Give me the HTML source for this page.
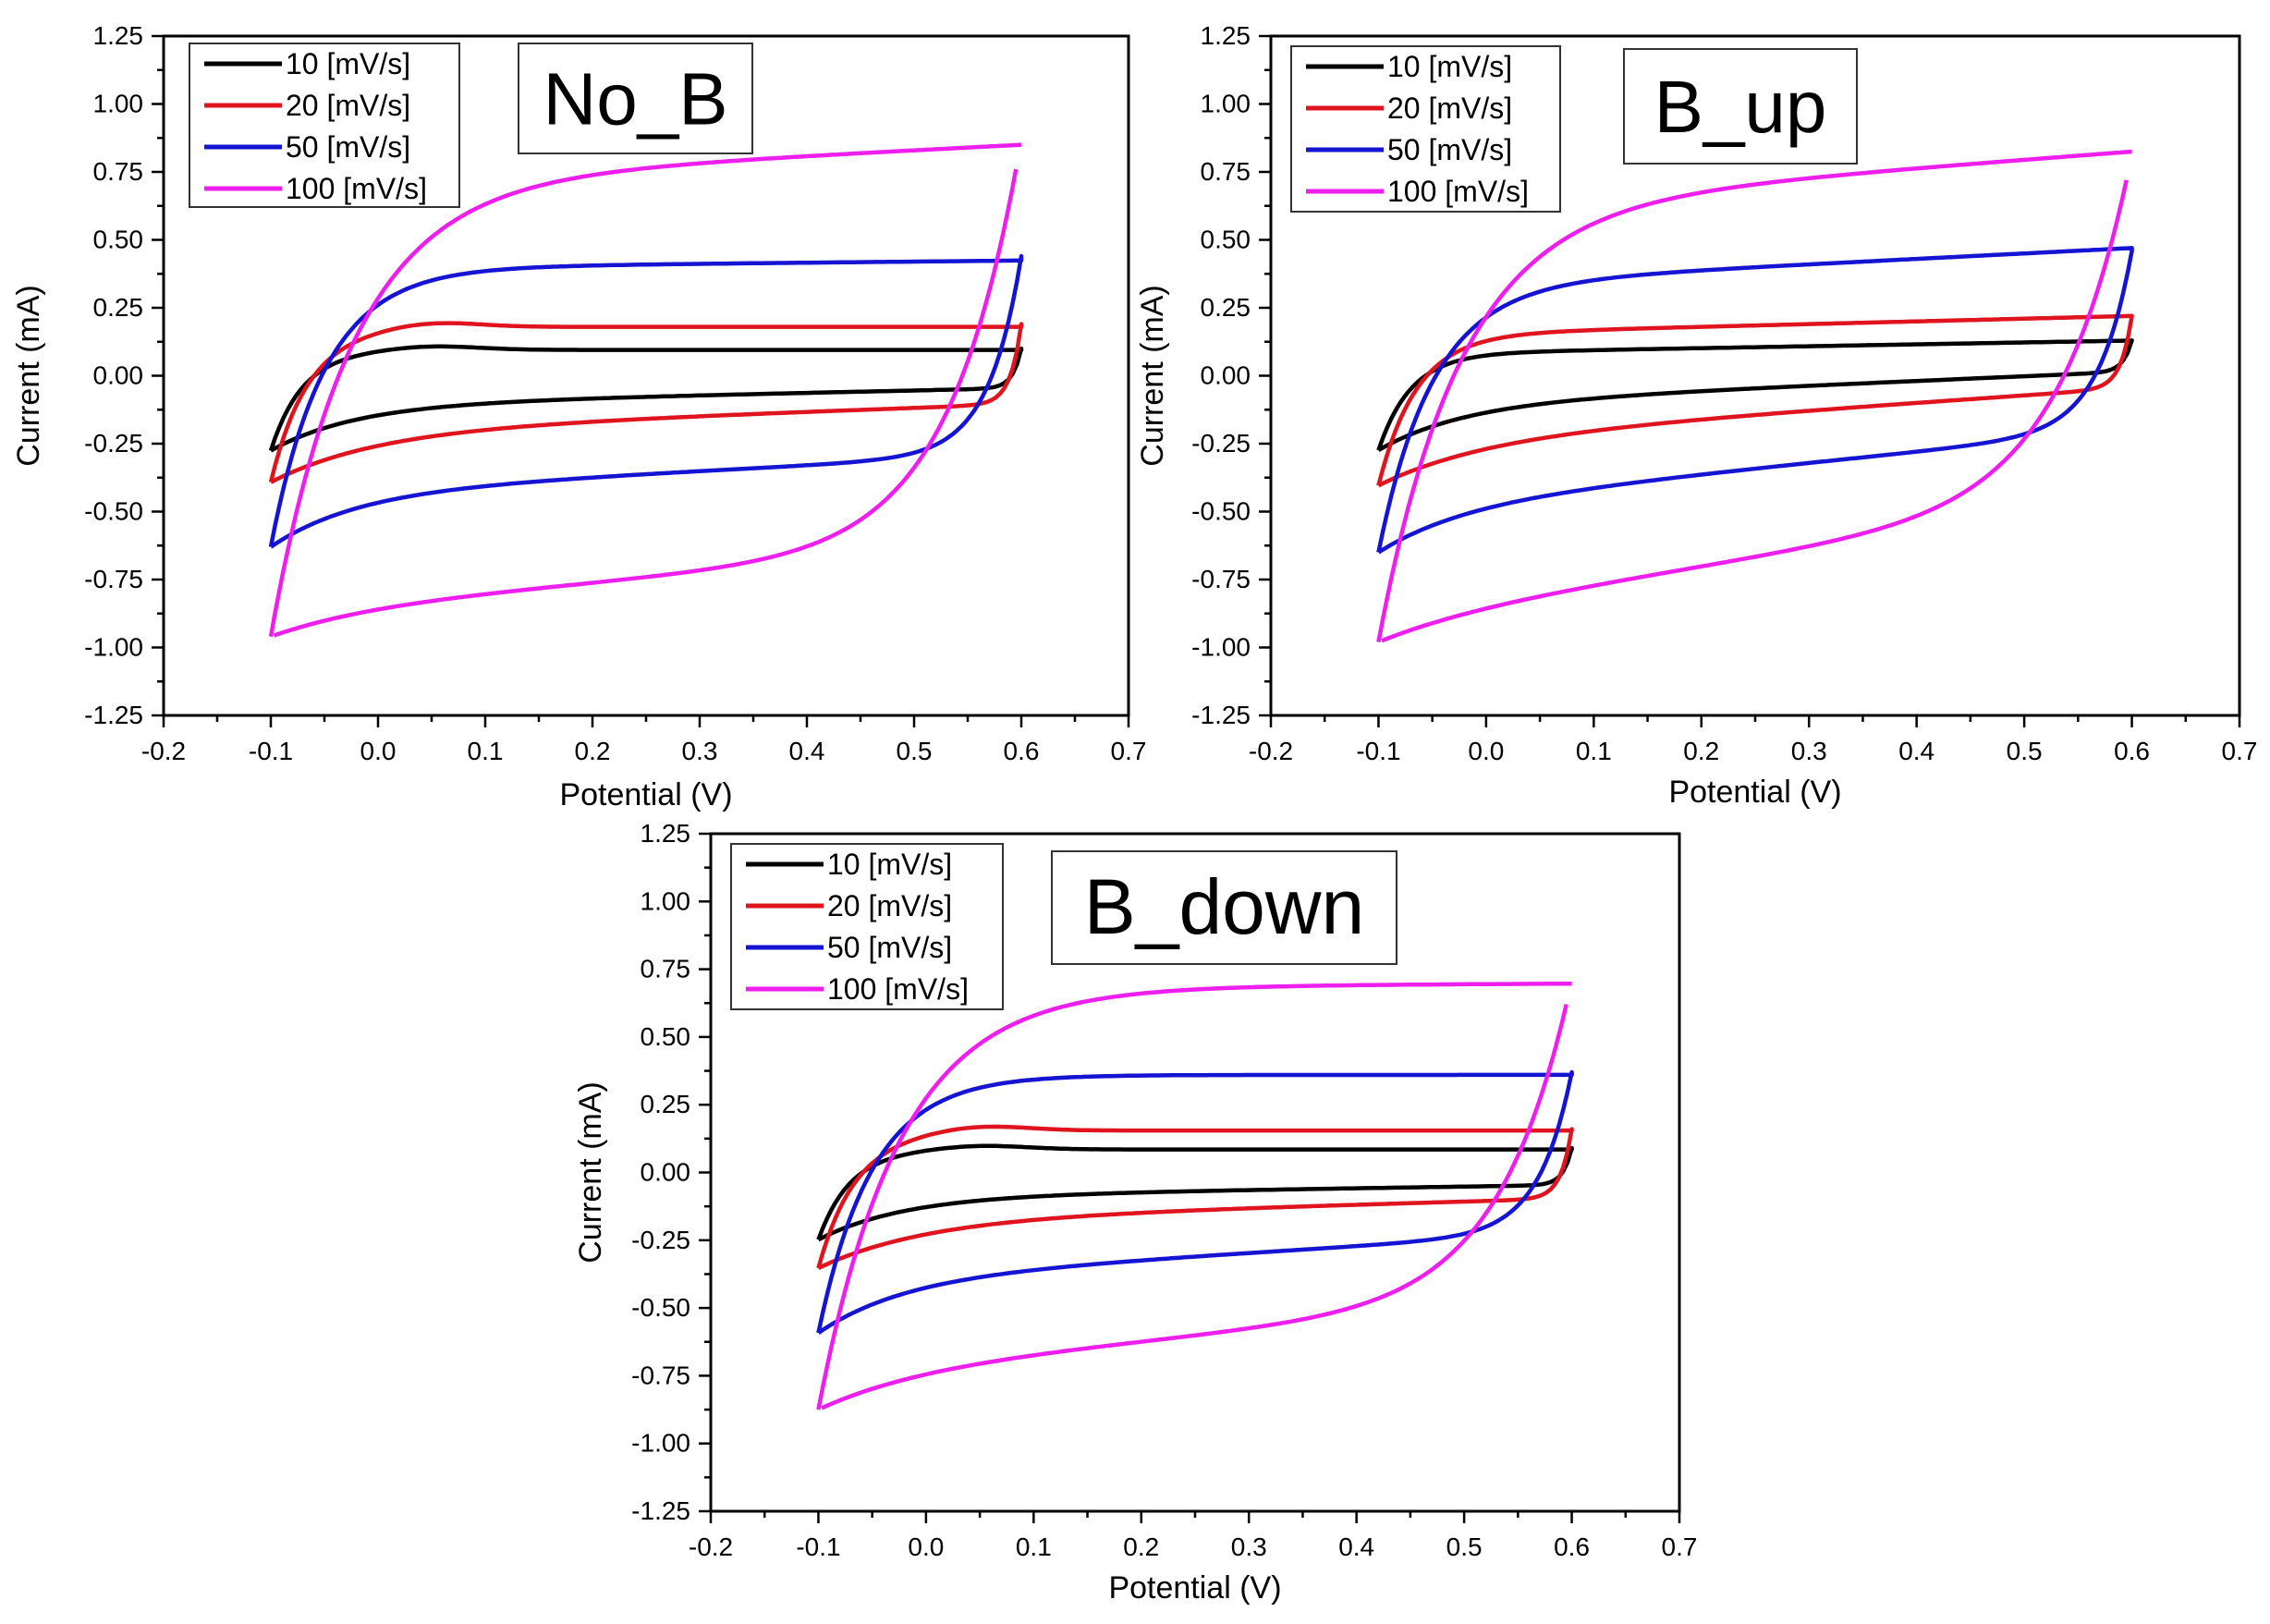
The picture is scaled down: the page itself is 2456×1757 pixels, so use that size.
<!DOCTYPE html>
<html><head><meta charset="utf-8"><style>html,body{margin:0;padding:0;background:#fff}svg{display:block}</style></head>
<body>
<svg id="s" xmlns="http://www.w3.org/2000/svg" width="2456" height="1757" viewBox="0 0 2456 1757" font-family="Liberation Sans, sans-serif"></svg>
<script>
const S=document.getElementById('s');let h='';
const cols=['#000000','#e0141e','#1414d2','#ee1eee'];
const labels=['10 [mV/s]','20 [mV/s]','50 [mV/s]','100 [mV/s]'];
function P(t0,t1,tau,b0,b1,bx,c,d,imax,taur,bump,xr){return {t:x=>t0+t1*(x-0.25)+(bump||0)*Math.exp(-Math.pow((x-0.05)/0.06,2)),tau,b:x=>b0+b1*(x-bx)-c*Math.exp(-(x+0.1)/d),imax,taur,xr:xr||0.6};}
const panels=[
{x0:177,x1:1221,y0:39,y1:774,title:'No_B',fs:80,leg:[205,47,292,177],tb:[561,47,253,119],ylx:31,xly:860,
 s:[P(0.095,0,0.03,-0.08,0.086,0.2,0.17,0.08,0.1,0.008,0.015),
    P(0.18,0,0.035,-0.16,0.14,0.2,0.19,0.1,0.19,0.01,0.02),
    P(0.41,0.04,0.05,-0.37,0.2,0.2,0.2,0.08,0.44,0.03,0),
    P(0.78,0.2,0.075,-0.76,0.3,0.2,0.11,0.1,0.76,0.065,0,0.595)]},
{x0:1375,x1:2423,y0:39,y1:774,title:'B_up',fs:80,leg:[1397,50,291,179],tb:[1757,53,252,124],ylx:1247,xly:857,
 s:[P(0.105,0.07,0.03,-0.07,0.17,0.1,0.17,0.08,0.13,0.008,0),
    P(0.185,0.1,0.035,-0.18,0.27,0.1,0.17,0.1,0.22,0.01,0),
    P(0.40,0.2,0.05,-0.4,0.4,0.1,0.17,0.08,0.46,0.03,0),
    P(0.72,0.3,0.075,-0.7,0.6,0.2,0.1,0.1,0.72,0.065,0,0.595)]},
{x0:769,x1:1817,y0:902,y1:1635,title:'B_down',fs:84,leg:[791,913,294,179],tb:[1138,921,373,122],ylx:639,xly:1718,
 s:[P(0.085,0,0.03,-0.07,0.06,0.2,0.16,0.08,0.09,0.008,0.015),
    P(0.155,0,0.035,-0.14,0.11,0.2,0.18,0.1,0.16,0.01,0.02),
    P(0.36,0,0.05,-0.32,0.24,0.2,0.2,0.08,0.37,0.03,0.0),
    P(0.69,0.02,0.075,-0.62,0.35,0.2,0.15,0.1,0.62,0.065,0,0.595)]}
];
for(const p of panels){
 const X=v=>p.x0+(v+0.2)/0.9*(p.x1-p.x0), Y=v=>p.y0+(1.25-v)/2.5*(p.y1-p.y0);
 h+=`<rect x="${p.x0}" y="${p.y0}" width="${p.x1-p.x0}" height="${p.y1-p.y0}" fill="none" stroke="#000" stroke-width="3"/>`;
 for(let i=0;i<=18;i++){const v=-0.2+i*0.05,x=X(v),maj=i%2==0;h+=`<line x1="${x}" y1="${p.y1}" x2="${x}" y2="${p.y1+(maj?13:7)}" stroke="#000" stroke-width="2.5"/>`;
  if(maj)h+=`<text x="${x}" y="${p.y1+48}" font-size="28" text-anchor="middle">${v.toFixed(1)}</text>`;}
 for(let i=0;i<=20;i++){const v=-1.25+i*0.125,y=Y(v),maj=i%2==0;h+=`<line x1="${p.x0}" y1="${y}" x2="${p.x0-(maj?13:7)}" y2="${y}" stroke="#000" stroke-width="2.5"/>`;
  if(maj)h+=`<text x="${p.x0-22}" y="${y+9}" font-size="28" text-anchor="end">${v.toFixed(2)}</text>`;}
 h+=`<text x="${(p.x0+p.x1)/2}" y="${p.xly+11}" font-size="34" text-anchor="middle">Potential (V)</text>`;
 h+=`<text transform="translate(${p.ylx+11},${(p.y0+p.y1)/2}) rotate(-90)" font-size="34" text-anchor="middle">Current (mA)</text>`;
 p.s.forEach((c,k)=>{const imin=c.b(-0.1);let f=[],r=[];
  for(let x=-0.1;x<=0.6001;x+=0.004){const t=c.t(x);f.push([x,t-(t-imin)*Math.exp(-(x+0.1)/c.tau)]);}
  for(let x=c.xr;x>=-0.1001;x-=0.004){const b=c.b(x);r.push([x,b+(c.imax-b)*Math.exp(-(c.xr-x)/c.taur)]);}
  const pts=k==3?[f,r]:[f.concat(r)];
  for(const ps of pts)h+=`<polyline fill="none" stroke="${cols[k]}" stroke-width="4.5" stroke-linejoin="round" points="${ps.map(q=>X(q[0]).toFixed(1)+','+Y(q[1]).toFixed(1)).join(' ')}"/>`;});
 const [lx,ly,lw,lh]=p.leg;h+=`<rect x="${lx}" y="${ly}" width="${lw}" height="${lh}" fill="#fff" stroke="#333" stroke-width="2"/>`;
 for(let k=0;k<4;k++){const yy=ly+22+k*45;h+=`<line x1="${lx+16}" y1="${yy}" x2="${lx+100}" y2="${yy}" stroke="${cols[k]}" stroke-width="5"/><text x="${lx+104}" y="${yy+11}" font-size="32">${labels[k]}</text>`;}
 const [tx,ty,tw,th]=p.tb;h+=`<rect x="${tx}" y="${ty}" width="${tw}" height="${th}" fill="#fff" stroke="#333" stroke-width="2"/><text x="${tx+tw/2}" y="${ty+th/2+28}" font-size="${p.fs}" text-anchor="middle">${p.title}</text>`;
}
S.innerHTML=h;
</script>
</body></html>
